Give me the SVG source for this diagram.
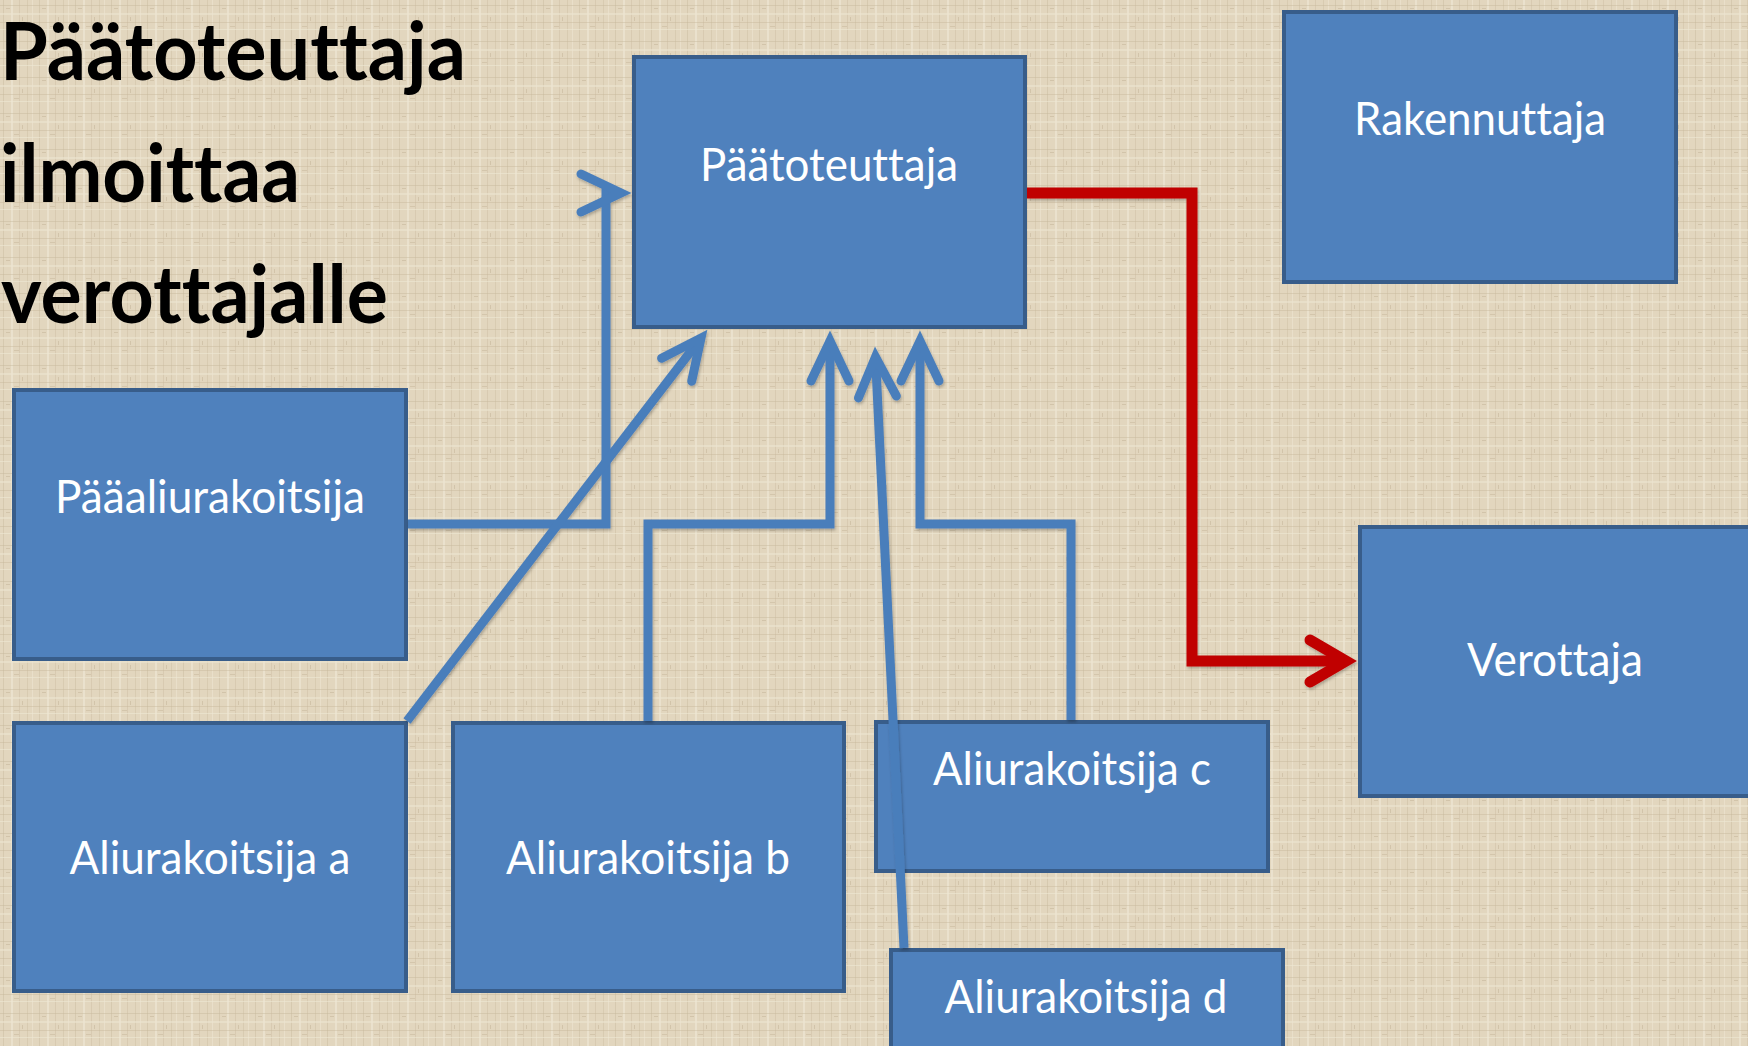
<svg xmlns="http://www.w3.org/2000/svg" width="1748" height="1046" viewBox="0 0 1748 1046">
  <defs>
    <pattern id="linen" width="36" height="36" patternUnits="userSpaceOnUse">
      <rect width="36" height="36" fill="#E2D6BE"/>
      <rect x="3" y="0" width="1" height="36" fill="#C8BA9D" opacity="0.45"/>
      <rect x="11" y="0" width="2" height="36" fill="#EFE6D3" opacity="0.7"/>
      <rect x="19" y="0" width="1" height="36" fill="#C4B597" opacity="0.35"/>
      <rect x="27" y="0" width="1" height="36" fill="#CDBFA3" opacity="0.5"/>
      <rect x="32" y="0" width="1" height="36" fill="#EEE5D2" opacity="0.6"/>
      <rect x="0" y="5" width="36" height="1" fill="#C6B89B" opacity="0.45"/>
      <rect x="0" y="13" width="36" height="2" fill="#EDE4D0" opacity="0.6"/>
      <rect x="0" y="22" width="36" height="1" fill="#C2B395" opacity="0.4"/>
      <rect x="0" y="29" width="36" height="1" fill="#EFE7D4" opacity="0.6"/>
      <rect x="6" y="8" width="4" height="1" fill="#B9AA8C" opacity="0.4"/>
      <rect x="22" y="17" width="1" height="4" fill="#B9AA8C" opacity="0.4"/>
      <rect x="14" y="26" width="5" height="1" fill="#BDAE90" opacity="0.4"/>
    </pattern>
    <marker id="arrBlue" markerUnits="userSpaceOnUse" markerWidth="80" markerHeight="80" viewBox="-60 -40 80 80" refX="0" refY="0" orient="auto">
      <path d="M-40,-19 L0,0 L-40,19" fill="none" stroke="#4A7EBB" stroke-width="9" stroke-linecap="round" stroke-linejoin="miter" stroke-miterlimit="10"/>
    </marker>
    <marker id="arrRed" markerUnits="userSpaceOnUse" markerWidth="80" markerHeight="80" viewBox="-60 -40 80 80" refX="0" refY="0" orient="auto">
      <path d="M-36,-21 L0,0 L-36,21" fill="none" stroke="#C00000" stroke-width="11" stroke-linecap="round" stroke-linejoin="miter" stroke-miterlimit="10"/>
    </marker>
    <filter id="shadow" x="-5%" y="-5%" width="110%" height="110%">
      <feDropShadow dx="1" dy="2" stdDeviation="1.5" flood-color="#000" flood-opacity="0.25"/>
    </filter>
  </defs>
  <style>
    text { font-variant-ligatures: none; font-feature-settings: "liga" 0, "clig" 0; }
    .box { fill: #4F81BD; stroke: #385D8A; stroke-width: 4; }
    .lbl { font-family: "Lato", "Open Sans", "Liberation Sans", sans-serif; font-size: 46px; fill: #FFFFFF; text-anchor: middle; }
    .title { font-family: "Lato", "Open Sans", "Liberation Sans", sans-serif; font-size: 80px; font-weight: bold; fill: #000000; }
    .blue { fill: none; stroke: #4A7EBB; stroke-width: 9; stroke-linejoin: miter; marker-end: url(#arrBlue); }
    .red { fill: none; stroke: #C00000; stroke-width: 11; stroke-linejoin: miter; marker-end: url(#arrRed); }
  </style>

  <rect x="0" y="0" width="1748" height="1046" fill="url(#linen)"/>

  <g id="title">
    <text class="title" x="0" y="80" textLength="466" lengthAdjust="spacingAndGlyphs">Päätoteuttaja</text>
    <text class="title" x="0" y="202" textLength="300" lengthAdjust="spacingAndGlyphs">ilmoittaa</text>
    <text class="title" x="1" y="323" textLength="387" lengthAdjust="spacingAndGlyphs">verottajalle</text>
  </g>

  <g id="paatoteuttaja">
    <rect class="box" x="634" y="57" width="391" height="270"/>
    <text class="lbl" x="829" y="181" textLength="258" lengthAdjust="spacingAndGlyphs">Päätoteuttaja</text>
  </g>
  <g id="rakennuttaja">
    <rect class="box" x="1284" y="12" width="392" height="270"/>
    <text class="lbl" x="1480" y="135" textLength="252" lengthAdjust="spacingAndGlyphs">Rakennuttaja</text>
  </g>
  <g id="paaaliurakoitsija">
    <rect class="box" x="14" y="390" width="392" height="269"/>
    <text class="lbl" x="210" y="513" textLength="310" lengthAdjust="spacingAndGlyphs">Pääaliurakoitsija</text>
  </g>
  <g id="aliurakoitsija-a">
    <rect class="box" x="14" y="723" width="392" height="268"/>
    <text class="lbl" x="210" y="874" textLength="281" lengthAdjust="spacingAndGlyphs">Aliurakoitsija a</text>
  </g>
  <g id="aliurakoitsija-b">
    <rect class="box" x="453" y="723" width="391" height="268"/>
    <text class="lbl" x="648" y="874" textLength="284" lengthAdjust="spacingAndGlyphs">Aliurakoitsija b</text>
  </g>
  <g id="aliurakoitsija-c">
    <rect class="box" x="876" y="722" width="392" height="149"/>
    <text class="lbl" x="1072" y="785" textLength="278" lengthAdjust="spacingAndGlyphs">Aliurakoitsija c</text>
  </g>
  <g id="aliurakoitsija-d">
    <rect class="box" x="891" y="950" width="392" height="120"/>
    <text class="lbl" x="1086" y="1013" textLength="283" lengthAdjust="spacingAndGlyphs">Aliurakoitsija d</text>
  </g>
  <g id="verottaja">
    <rect class="box" x="1360" y="527" width="400" height="269"/>
    <text class="lbl" x="1555" y="676" textLength="176" lengthAdjust="spacingAndGlyphs">Verottaja</text>
  </g>

  <g id="connectors" filter="url(#shadow)">
    <path class="blue" d="M408,524 H606 V193 H621"/>
    <path class="blue" d="M407,721 L701,338"/>
    <path class="blue" d="M648,721 V524 H830 V341"/>
    <path class="blue" d="M1071,720 V524 H920 V341"/>
    <path class="blue" d="M904,948 L875.5,357"/>
    <path class="red" d="M1027,193 H1192 V661 H1346"/>
  </g>
</svg>
